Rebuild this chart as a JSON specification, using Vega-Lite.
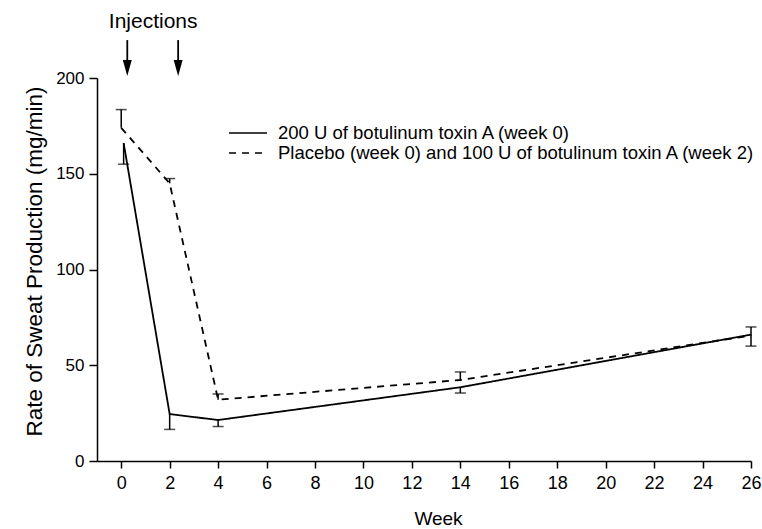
{
  "$schema": "https://vega.github.io/schema/vega-lite/v6.json",
  "autosize": {"type": "none"},
  "padding": {"left": 97, "top": 78, "right": 11, "bottom": 68},
  "width": 654,
  "height": 383,
  "background": "white",
  "config": {
    "view": {"stroke": null},
    "font": "Liberation Sans",
    "axis": {"grid": false, "domainColor": "black", "domainWidth": 1.5, "tickColor": "black", "tickWidth": 1.5, "labelColor": "black", "titleColor": "black", "titleFontWeight": "normal", "labelFont": "Liberation Sans", "titleFont": "Liberation Sans"}
  },
  "datasets": {
    "series": [
      {"series": "200 U of botulinum toxin A (week 0)", "week": 0.1, "value": 166, "err": 155},
      {"series": "200 U of botulinum toxin A (week 0)", "week": 2, "value": 24.5, "err": 16.5},
      {"series": "200 U of botulinum toxin A (week 0)", "week": 4, "value": 21.4, "err": 18},
      {"series": "200 U of botulinum toxin A (week 0)", "week": 14, "value": 38.5, "err": 35.5},
      {"series": "200 U of botulinum toxin A (week 0)", "week": 26, "value": 66, "err": 60},
      {"series": "Placebo (week 0) and 100 U of botulinum toxin A (week 2)", "week": 0, "value": 174, "err": 183.5},
      {"series": "Placebo (week 0) and 100 U of botulinum toxin A (week 2)", "week": 2, "value": 145, "err": 147.5},
      {"series": "Placebo (week 0) and 100 U of botulinum toxin A (week 2)", "week": 4, "value": 32, "err": 35},
      {"series": "Placebo (week 0) and 100 U of botulinum toxin A (week 2)", "week": 14, "value": 42.3, "err": 46.5},
      {"series": "Placebo (week 0) and 100 U of botulinum toxin A (week 2)", "week": 26, "value": 65.5, "err": 70}
    ],
    "arrows": [
      {"week": 0.25, "top": 219.8, "bottom": 209.4, "head": 205.2},
      {"week": 2.35, "top": 219.8, "bottom": 209.4, "head": 205.2}
    ],
    "note": [
      {"week": 1.32, "y": 229.2, "label": "Injections"}
    ]
  },
  "layer": [
    {
      "data": {"name": "series"},
      "mark": {"type": "line", "color": "black", "strokeWidth": 1.8},
      "encoding": {
        "x": {"field": "week", "type": "quantitative", "scale": {"domain": [-1, 26], "nice": false, "zero": false},
              "axis": {"values": [0,2,4,6,8,10,12,14,16,18,20,22,24,26], "title": "Week", "titleFontSize": 19, "titleX": 341, "titleY": 57, "titleBaseline": "middle", "titleAlign": "center", "labelFontSize": 18, "tickSize": 7, "labelPadding": 6, "labelFlush": false}},
        "y": {"field": "value", "type": "quantitative", "scale": {"domain": [0, 200], "nice": false},
              "axis": {"values": [0,50,100,150,200], "title": "Rate of Sweat Production (mg/min)", "titleFontSize": 22.5, "titleX": -63, "titleY": 183, "titleBaseline": "middle", "titleAlign": "center", "labelFontSize": 17, "tickSize": 8, "labelPadding": 5}},
        "strokeDash": {"field": "series", "type": "nominal",
              "scale": {"domain": ["200 U of botulinum toxin A (week 0)", "Placebo (week 0) and 100 U of botulinum toxin A (week 2)"], "range": [[1, 0], [7, 6]]},
              "legend": {"title": null, "orient": "none", "legendX": 131, "legendY": 45, "symbolType": "stroke", "symbolSize": 1444, "symbolStrokeWidth": 1.5, "symbolStrokeColor": "black", "labelFontSize": 18.5, "labelColor": "black", "labelOffset": 10, "rowPadding": 0, "clipHeight": 20, "padding": 0, "labelLimit": 600}}
      }
    },
    {
      "data": {"name": "series"},
      "mark": {"type": "rule", "color": "black", "strokeWidth": 1.5},
      "encoding": {
        "x": {"field": "week", "type": "quantitative"},
        "y": {"field": "value", "type": "quantitative"},
        "y2": {"field": "err"}
      }
    },
    {
      "data": {"name": "series"},
      "mark": {"type": "tick", "orient": "horizontal", "color": "black", "size": 11, "thickness": 1.5},
      "encoding": {
        "x": {"field": "week", "type": "quantitative"},
        "y": {"field": "err", "type": "quantitative"}
      }
    },
    {
      "data": {"name": "arrows"},
      "mark": {"type": "rule", "color": "black", "strokeWidth": 1.8},
      "encoding": {
        "x": {"field": "week", "type": "quantitative"},
        "y": {"field": "top", "type": "quantitative"},
        "y2": {"field": "bottom"}
      }
    },
    {
      "data": {"name": "arrows"},
      "mark": {"type": "point", "shape": "M-0.56,-1L0.56,-1L0,1Z", "size": 256, "filled": true, "color": "black", "opacity": 1},
      "encoding": {
        "x": {"field": "week", "type": "quantitative"},
        "y": {"field": "head", "type": "quantitative"}
      }
    },
    {
      "data": {"name": "note"},
      "mark": {"type": "text", "fontSize": 21, "color": "black", "baseline": "middle", "align": "center"},
      "encoding": {
        "x": {"field": "week", "type": "quantitative"},
        "y": {"field": "y", "type": "quantitative"},
        "text": {"field": "label"}
      }
    }
  ]
}
